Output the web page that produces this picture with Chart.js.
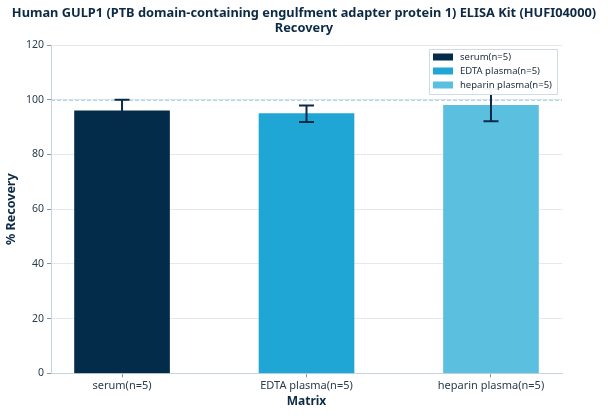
<!DOCTYPE html>
<html>
<head>
<meta charset="utf-8">
<script src="https://cdn.jsdelivr.net/npm/chart.js@4.4.0/dist/chart.umd.min.js"></script>
<style>
html,body{margin:0;padding:0;background:#fff;}
#wrap{width:608px;height:416px;}
</style>
</head>
<body>
<div id="wrap"><canvas id="c" width="608" height="416"></canvas></div>
<script>
const categories = ["serum(n=5)", "EDTA plasma(n=5)", "heparin plasma(n=5)"];
const recovery = [95.9, 94.9, 98.0];
const errors = [4.1, 3.0, 5.9];
const barColors = ["#032c4a", "#1fa6d4", "#5bbfe0"];
const yTicks = [0, 20, 40, 60, 80, 100, 120];
const refLine = 100;
const titleLines = ["Human GULP1 (PTB domain-containing engulfment adapter protein 1) ELISA Kit (HUFI04000)", "Recovery"];

const FONT = "'Noto Sans', 'Open Sans', sans-serif";
const TXT = "#0d2a45";

const titlePlugin = {
  id: 'titlePlugin',
  afterDraw(chart) {
    const ctx = chart.ctx;
    ctx.save();
    ctx.fillStyle = TXT;
    ctx.font = "bold 12.8px " + FONT;
    ctx.textAlign = "center";
    ctx.textBaseline = "middle";
    titleLines.forEach((t, i) => ctx.fillText(t, chart.width / 2, 13 + i * 15.5));
    ctx.restore();
  }
};

const errorBars = {
  id: 'errorBars',
  afterDatasetsDraw(chart) {
    const ctx = chart.ctx, y = chart.scales.y, meta = chart.getDatasetMeta(0);
    const a = chart.chartArea;
    ctx.save();
    const ry = y.getPixelForValue(refLine);
    ctx.strokeStyle = "#93c8e0";
    ctx.lineWidth = 1;
    ctx.setLineDash([4, 2]);
    ctx.beginPath(); ctx.moveTo(a.left, ry + 0.5); ctx.lineTo(a.right, ry + 0.5); ctx.stroke();
    ctx.setLineDash([]);
    ctx.strokeStyle = "#0a2a47";
    ctx.lineWidth = 2;
    meta.data.forEach((bar, i) => {
      const x = bar.x;
      const top = y.getPixelForValue(recovery[i] + errors[i]);
      const bot = y.getPixelForValue(recovery[i] - errors[i]);
      ctx.beginPath();
      ctx.moveTo(x, top); ctx.lineTo(x, bot);
      ctx.moveTo(x - 7.5, top); ctx.lineTo(x + 7.5, top);
      ctx.moveTo(x - 7.5, bot); ctx.lineTo(x + 7.5, bot);
      ctx.stroke();
    });
    ctx.restore();
  }
};

const boxLegend = {
  id: 'boxLegend',
  afterDraw(chart) {
    const ctx = chart.ctx, a = chart.chartArea;
    const w = 128, h = 45;
    const x0 = a.right - w - 5, y0 = a.top + 4;
    ctx.save();
    ctx.fillStyle = "rgba(255,255,255,0.95)";
    ctx.strokeStyle = "#d2dbe3";
    ctx.lineWidth = 1;
    ctx.beginPath();
    ctx.rect(Math.round(x0) + 0.5, Math.round(y0) + 0.5, w, h);
    ctx.fill(); ctx.stroke();
    ctx.font = "9.5px " + FONT;
    ctx.textBaseline = "middle";
    categories.forEach((c, i) => {
      const yy = y0 + 8 + i * 14;
      ctx.fillStyle = barColors[i];
      ctx.fillRect(x0 + 4, yy - 3.5, 20, 7);
      ctx.fillStyle = "#1a2a3a";
      ctx.fillText(c, x0 + 31, yy + 0.5);
    });
    ctx.restore();
  }
};

new Chart(document.getElementById('c'), {
  type: 'bar',
  data: {
    datasets: [{
      data: recovery.map((v, i) => ({ x: i, y: v })),
      backgroundColor: barColors,
      borderWidth: 0,
      barThickness: 95
    }]
  },
  options: {
    responsive: false,
    animation: false,
    devicePixelRatio: 1,
    layout: { padding: { left: 0, right: 46, top: 45, bottom: 3 } },
    plugins: {
      legend: { display: false },
      tooltip: { enabled: false },
      title: { display: false }
    },
    scales: {
      x: {
        type: 'linear',
        offset: false,
        min: -0.385, max: 2.385,
        afterBuildTicks(s) { s.ticks = categories.map((c, i) => ({ value: i })); },
        grid: { offset: false, drawOnChartArea: false, drawTicks: true, tickLength: 4, color: "#8a97a3" },
        border: { color: "#c8d3dc", width: 1 },
        ticks: { color: "#2a3b4c", font: { family: FONT, size: 11 }, padding: 2, autoSkip: false, maxRotation: 0,
          callback: (v) => categories[v] },
        title: { display: true, text: "Matrix", color: TXT, font: { family: FONT, size: 12, weight: 'bold' }, padding: { top: 0 } }
      },
      y: {
        min: 0, max: 120,
        afterBuildTicks(s) { s.ticks = yTicks.map(v => ({ value: v })); },
        grid: { color: "#e3e9ef", tickLength: 4, tickColor: "#8a97a3" },
        border: { color: "#c8d3dc", width: 1 },
        ticks: { color: "#2a3b4c", font: { family: FONT, size: 10.5 }, padding: 3 },
        title: { display: true, text: "% Recovery", color: TXT, font: { family: FONT, size: 12.5, weight: 'bold' }, padding: { bottom: 4 } }
      }
    }
  },
  plugins: [errorBars, boxLegend, titlePlugin]
});
</script>
</body>
</html>
